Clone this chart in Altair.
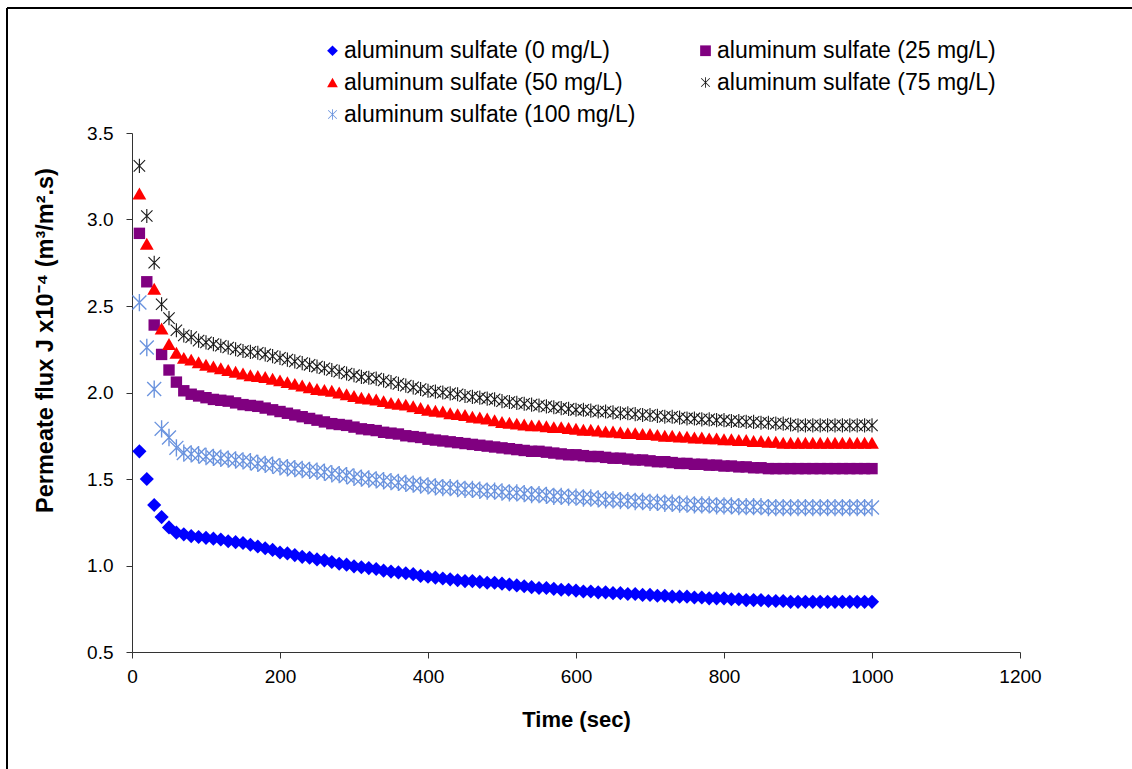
import altair as alt
import pandas as pd

times = list(range(10, 1001, 10))

series_names = [
    "aluminum sulfate (0 mg/L)",
    "aluminum sulfate (25 mg/L)",
    "aluminum sulfate (50 mg/L)",
    "aluminum sulfate (75 mg/L)",
    "aluminum sulfate (100 mg/L)",
]

flux_0 = [1.66, 1.50, 1.35, 1.28, 1.22, 1.19, 1.18, 1.17, 1.165, 1.16,
          1.155, 1.15, 1.14, 1.135, 1.13, 1.12, 1.11, 1.10, 1.09, 1.075,
          1.07, 1.06, 1.05, 1.045, 1.035, 1.03, 1.02, 1.01, 1.005, 0.995,
          0.99, 0.985, 0.98, 0.97, 0.965, 0.96, 0.955, 0.95, 0.94, 0.935,
          0.93, 0.925, 0.92, 0.915, 0.91, 0.91, 0.905, 0.90, 0.90, 0.895,
          0.89, 0.885, 0.88, 0.875, 0.87, 0.87, 0.865, 0.86, 0.86, 0.855,
          0.85, 0.85, 0.845, 0.845, 0.84, 0.84, 0.835, 0.835, 0.83, 0.83,
          0.825, 0.825, 0.82, 0.82, 0.82, 0.815, 0.815, 0.81, 0.81, 0.81,
          0.805, 0.805, 0.80, 0.80, 0.80, 0.795, 0.795, 0.795, 0.79, 0.79,
          0.79, 0.79, 0.79, 0.79, 0.79, 0.79, 0.79, 0.79, 0.79, 0.79]

flux_25 = [2.92, 2.64, 2.39, 2.22, 2.13, 2.06, 2.01, 1.99, 1.98, 1.97,
           1.96, 1.955, 1.95, 1.94, 1.93, 1.925, 1.92, 1.91, 1.90, 1.89,
           1.88, 1.87, 1.86, 1.85, 1.84, 1.83, 1.82, 1.815, 1.81, 1.80,
           1.79, 1.785, 1.78, 1.77, 1.765, 1.76, 1.75, 1.745, 1.74, 1.73,
           1.725, 1.72, 1.715, 1.71, 1.705, 1.70, 1.695, 1.69, 1.685, 1.68,
           1.675, 1.67, 1.665, 1.66, 1.66, 1.655, 1.65, 1.645, 1.64, 1.64,
           1.635, 1.63, 1.63, 1.625, 1.62, 1.62, 1.615, 1.61, 1.61, 1.605,
           1.60, 1.60, 1.595, 1.59, 1.59, 1.585, 1.585, 1.58, 1.58, 1.575,
           1.575, 1.57, 1.57, 1.565, 1.565, 1.56, 1.56, 1.56, 1.56, 1.56,
           1.56, 1.56, 1.56, 1.56, 1.56, 1.56, 1.56, 1.56, 1.56, 1.56]

flux_50 = [3.15, 2.86, 2.60, 2.37, 2.28, 2.23, 2.20, 2.19, 2.175, 2.16,
           2.15, 2.14, 2.13, 2.12, 2.11, 2.10, 2.095, 2.09, 2.08, 2.07,
           2.06, 2.05, 2.04, 2.03, 2.02, 2.015, 2.01, 2.00, 1.99, 1.98,
           1.97, 1.965, 1.96, 1.95, 1.94, 1.935, 1.93, 1.92, 1.91, 1.90,
           1.895, 1.89, 1.88, 1.875, 1.87, 1.86, 1.855, 1.85, 1.84, 1.83,
           1.825, 1.82, 1.815, 1.81, 1.81, 1.805, 1.80, 1.80, 1.795, 1.79,
           1.785, 1.785, 1.78, 1.775, 1.775, 1.77, 1.765, 1.765, 1.76, 1.76,
           1.755, 1.75, 1.75, 1.745, 1.745, 1.74, 1.74, 1.735, 1.735, 1.73,
           1.73, 1.725, 1.725, 1.72, 1.72, 1.715, 1.715, 1.71, 1.71, 1.71,
           1.71, 1.71, 1.71, 1.71, 1.71, 1.71, 1.71, 1.71, 1.71, 1.71]

flux_75 = [3.31, 3.02, 2.75, 2.51, 2.43, 2.36, 2.33, 2.32, 2.30, 2.29,
           2.28, 2.27, 2.26, 2.25, 2.24, 2.235, 2.23, 2.22, 2.21, 2.20,
           2.19, 2.18, 2.17, 2.16, 2.15, 2.14, 2.13, 2.12, 2.11, 2.10,
           2.09, 2.085, 2.08, 2.07, 2.06, 2.05, 2.04, 2.03, 2.02, 2.01,
           2.005, 2.00, 1.995, 1.99, 1.98, 1.975, 1.97, 1.965, 1.96, 1.95,
           1.945, 1.94, 1.935, 1.93, 1.925, 1.92, 1.915, 1.91, 1.905, 1.90,
           1.90, 1.895, 1.89, 1.89, 1.885, 1.88, 1.88, 1.875, 1.87, 1.87,
           1.865, 1.86, 1.86, 1.855, 1.85, 1.85, 1.845, 1.845, 1.84, 1.84,
           1.835, 1.835, 1.83, 1.83, 1.825, 1.825, 1.82, 1.82, 1.815, 1.81,
           1.81, 1.81, 1.81, 1.81, 1.81, 1.81, 1.81, 1.81, 1.81, 1.81]

flux_100 = [2.52, 2.26, 2.02, 1.79, 1.74, 1.68, 1.65, 1.645, 1.64, 1.63,
            1.625, 1.62, 1.615, 1.61, 1.605, 1.60, 1.59, 1.585, 1.58, 1.57,
            1.565, 1.56, 1.555, 1.55, 1.545, 1.54, 1.53, 1.525, 1.52, 1.51,
            1.505, 1.50, 1.495, 1.49, 1.485, 1.48, 1.475, 1.47, 1.465, 1.46,
            1.455, 1.45, 1.45, 1.445, 1.44, 1.44, 1.435, 1.43, 1.43, 1.425,
            1.42, 1.42, 1.415, 1.41, 1.41, 1.405, 1.40, 1.40, 1.395, 1.395,
            1.39, 1.39, 1.385, 1.38, 1.38, 1.375, 1.375, 1.37, 1.37, 1.365,
            1.365, 1.36, 1.36, 1.355, 1.355, 1.35, 1.35, 1.35, 1.345, 1.345,
            1.345, 1.34, 1.34, 1.34, 1.34, 1.335, 1.335, 1.335, 1.335, 1.335,
            1.335, 1.335, 1.335, 1.335, 1.335, 1.335, 1.335, 1.335, 1.335, 1.335]

all_flux = [flux_0, flux_25, flux_50, flux_75, flux_100]

rows = []
for name, vals in zip(series_names, all_flux):
    for t, v in zip(times, vals):
        rows.append({"time": t, "flux": v, "series": name})
df = pd.DataFrame(rows)

colors = ["#0000FF", "#800080", "#FF0000", "#1a1a1a", "#6A93DE"]
star = ("M-0.08,-1L0.08,-1L0.08,1L-0.08,1Z"
        "M-0.86,-0.75L-0.75,-0.86L0.86,0.75L0.75,0.86Z"
        "M-0.86,0.75L0.75,-0.86L0.86,-0.75L-0.75,0.86Z")
shapes = ["diamond", "square", "triangle-up", star, star]

# marker size per series (px^2), computed in the spec
size_expr = (
    "datum.series == '" + series_names[0] + "' ? 200 : "
    "datum.series == '" + series_names[1] + "' ? 130 : "
    "datum.series == '" + series_names[2] + "' ? 190 : "
    "datum.series == '" + series_names[3] + "' ? 200 : 300"
)

FONT = "Liberation Sans"

points = alt.Chart(df).transform_calculate(
    msize=size_expr
).mark_point(filled=True, opacity=1).encode(
    x=alt.X("time:Q",
            scale=alt.Scale(domain=[0, 1200], nice=False),
            axis=alt.Axis(values=[0, 200, 400, 600, 800, 1000, 1200],
                          title="Time (sec)", grid=False, format="d",
                          labelFlush=False, labelPadding=9,
                          titleFontSize=22, titlePadding=23)),
    y=alt.Y("flux:Q",
            scale=alt.Scale(domain=[0.5, 3.5], nice=False, zero=False),
            axis=alt.Axis(values=[0.5, 1.0, 1.5, 2.0, 2.5, 3.0, 3.5],
                          format=".1f", grid=False, labelFlush=False,
                          labelPadding=13,
                          title="Permeate flux J x10\u207b\u2074 (m\u00b3/m\u00b2.s)",
                          titleFontSize=23.5, titleX=-87, titleY=207,
                          titleBaseline="middle", titleAlign="center")),
    color=alt.Color("series:N",
                    scale=alt.Scale(domain=series_names, range=colors),
                    legend=alt.Legend(title=None, orient="none",
                                      direction="horizontal",
                                      legendX=189, legendY=-94,
                                      columns=2, columnPadding=58,
                                      rowPadding=8, symbolSize=115,
                                      labelFontSize=23, labelFont=FONT,
                                      labelColor="#000000", labelOffset=0,
                                      labelLimit=500, padding=0)),
    shape=alt.Shape("series:N",
                    scale=alt.Scale(domain=series_names, range=shapes)),
    size=alt.Size("msize:Q", scale=None, legend=None),
)

border_top = alt.Chart(df).mark_rule(color="#000000", strokeWidth=2).encode(
    x=alt.value(-125), x2=alt.value(1000), y=alt.value(-125))
border_left = alt.Chart(df).mark_rule(color="#000000", strokeWidth=2).encode(
    x=alt.value(-125), y=alt.value(-125), y2=alt.value(640))

chart = alt.layer(points, border_top, border_left).properties(
    width=888, height=519,
    autosize=alt.AutoSizeParams(type="none"),
    padding={"left": 132, "top": 133, "right": 112, "bottom": 117},
).configure_view(stroke=None).configure_axis(
    labelFont=FONT, titleFont=FONT, labelFontSize=19,
    labelColor="#000000", titleColor="#000000", domainColor="#333333",
    tickColor="#333333", tickSize=6, titleFontWeight="bold",
)

chart.save("out.html", embed_options={"renderer": "svg", "actions": False})
